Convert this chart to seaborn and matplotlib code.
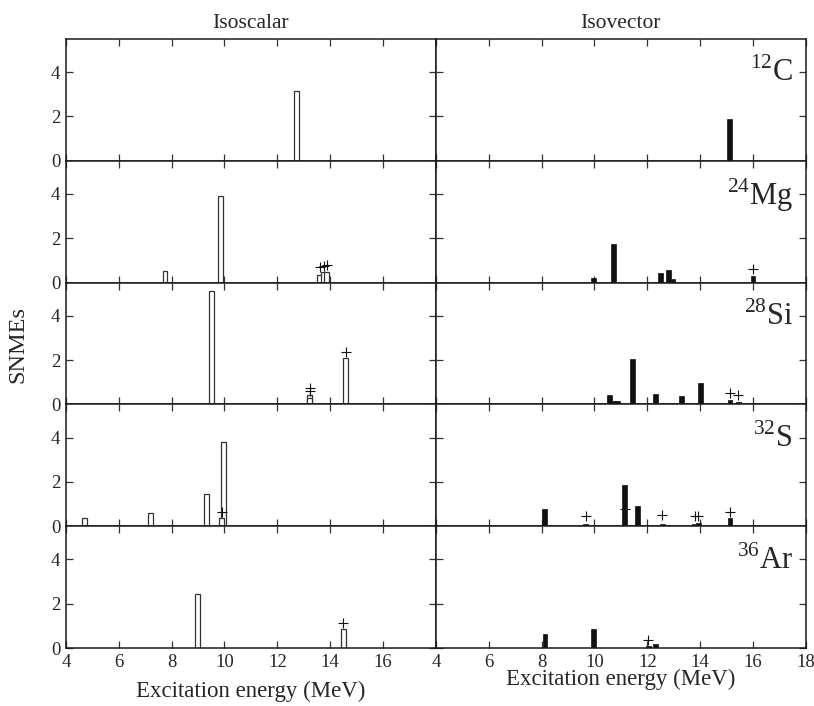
import numpy as np
import matplotlib
matplotlib.use("Agg")
import matplotlib.pyplot as plt
import seaborn as sns

# nuclei, top to bottom
nuclei = [r"$^{12}\mathrm{C}$", r"$^{24}\mathrm{Mg}$", r"$^{28}\mathrm{Si}$",
          r"$^{32}\mathrm{S}$", r"$^{36}\mathrm{Ar}$"]

# isoscalar strengths (MeV, SNME)
c12_is_e = [12.72]
c12_is_b = [3.14]
mg24_is_e = [7.75, 9.84, 13.60, 13.76, 13.86]
mg24_is_b = [0.51, 3.89, 0.36, 0.47, 0.47]
si28_is_e = [9.51, 13.22, 13.22, 14.59]
si28_is_b = [5.12, 0.41, 0.28, 2.08]
s32_is_e = [4.69, 7.20, 9.31, 9.97, 9.90]
s32_is_b = [0.36, 0.62, 1.46, 3.79, 0.36]
ar36_is_e = [8.97, 14.50]
ar36_is_b = [2.44, 0.86]

# isovector strengths
c12_iv_e = [15.10]
c12_iv_b = [1.89]
mg24_iv_e = [9.97, 10.71, 12.51, 12.80, 12.97, 16.00]
mg24_iv_b = [0.19, 1.72, 0.42, 0.56, 0.15, 0.30]
si28_iv_e = [10.57, 10.74, 10.86, 11.45, 12.31, 13.30, 14.00, 15.13, 15.45]
si28_iv_b = [0.42, 0.16, 0.16, 2.06, 0.46, 0.37, 0.95, 0.19, 0.12]
s32_iv_e = [8.10, 9.67, 11.14, 11.62, 12.57, 13.80, 13.95, 15.13]
s32_iv_b = [0.77, 0.12, 1.85, 0.90, 0.12, 0.08, 0.15, 0.35]
ar36_iv_e = [8.13, 9.97, 12.04, 12.31]
ar36_iv_b = [0.65, 0.86, 0.09, 0.18]

# "+" markers
c12_is_pe, c12_is_pb = [], []
mg24_is_pe = [13.60, 13.77, 13.87]
mg24_is_pb = [0.68, 0.76, 0.80]
si28_is_pe = [13.22, 13.24, 14.59]
si28_is_pb = [0.72, 0.60, 2.37]
s32_is_pe = [9.90]
s32_is_pb = [0.65]
ar36_is_pe = [14.50]
ar36_is_pb = [1.15]

c12_iv_pe, c12_iv_pb = [], []
mg24_iv_pe = [16.00]
mg24_iv_pb = [0.59]
si28_iv_pe = [15.13, 15.45]
si28_iv_pb = [0.50, 0.41]
s32_iv_pe = [9.67, 11.14, 12.57, 13.80, 13.93, 15.13]
s32_iv_pb = [0.48, 0.80, 0.50, 0.45, 0.48, 0.65]
ar36_iv_pe = [12.04]
ar36_iv_pb = [0.36]

isoscalar = [(c12_is_e, c12_is_b, c12_is_pe, c12_is_pb),
             (mg24_is_e, mg24_is_b, mg24_is_pe, mg24_is_pb),
             (si28_is_e, si28_is_b, si28_is_pe, si28_is_pb),
             (s32_is_e, s32_is_b, s32_is_pe, s32_is_pb),
             (ar36_is_e, ar36_is_b, ar36_is_pe, ar36_is_pb)]
isovector = [(c12_iv_e, c12_iv_b, c12_iv_pe, c12_iv_pb),
             (mg24_iv_e, mg24_iv_b, mg24_iv_pe, mg24_iv_pb),
             (si28_iv_e, si28_iv_b, si28_iv_pe, si28_iv_pb),
             (s32_iv_e, s32_iv_b, s32_iv_pe, s32_iv_pb),
             (ar36_iv_e, ar36_iv_b, ar36_iv_pe, ar36_iv_pb)]

sns.set_theme(style="ticks")
plt.rcParams["font.family"] = ["Liberation Serif", "DejaVu Serif"]
plt.rcParams["mathtext.fontset"] = "custom"
plt.rcParams["mathtext.rm"] = "Liberation Serif"
plt.rcParams["axes.edgecolor"] = "#1a1a1a"
plt.rcParams["axes.linewidth"] = 1.1

fig, axes = plt.subplots(5, 2, figsize=(8.14, 7.06), dpi=100)
fig.subplots_adjust(left=0.081, right=0.990, top=0.945, bottom=0.082,
                    wspace=0, hspace=0)

bar_w = 0.18
for row in range(5):
    for col, data in enumerate([isoscalar, isovector]):
        ax = axes[row, col]
        e, b, pe, pb = data[row]
        if col == 0:
            ax.bar(e, b, width=bar_w, facecolor="white", edgecolor="#333333",
                   linewidth=0.9)
        else:
            ax.bar(e, b, width=bar_w, facecolor="#111111", edgecolor="#111111",
                   linewidth=0.5)
        if pe:
            ax.plot(pe, pb, "+", color="#111111", ms=7, mew=0.8)

        ax.set_xlim(4, 18)
        ax.set_ylim(0, 5.5)
        ax.set_xticks(np.arange(4, 19, 2))
        ax.set_yticks([0, 2, 4])
        ax.tick_params(direction="in", top=True, right=True, length=5,
                       width=0.9, color="#333333", labelsize=13.5, pad=4)
        if col == 1:
            ax.set_yticklabels([])
            ax.text(0.965, 0.72, nuclei[row], transform=ax.transAxes,
                    ha="right", va="center", fontsize=22)
        if row < 4:
            ax.set_xticklabels([])
        elif col == 0:
            ax.set_xticklabels([str(v) if v < 18 else "" for v in range(4, 19, 2)])

axes[4, 0].set_xlabel("Excitation energy (MeV)", fontsize=16.5, labelpad=7)
axes[4, 1].set_xlabel("Excitation energy (MeV)", fontsize=16.5, labelpad=-1)
axes[0, 0].set_title("Isoscalar", fontsize=15.5, pad=8)
axes[0, 1].set_title("Isovector", fontsize=15.5, pad=8)
fig.text(0.022, 0.512, "SNMEs", rotation=90, ha="center", va="center",
         fontsize=17.5)

fig.savefig("out.png", dpi=100)
